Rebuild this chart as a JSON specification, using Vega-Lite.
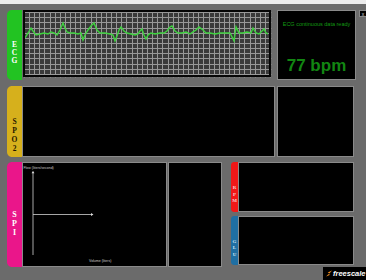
{
  "$schema": "https://vega.github.io/schema/vega-lite/v6.json",
  "background": "#6b6b6b",
  "padding": 0,
  "spacing": 0,
  "config": {"view": {"stroke": null}, "font": "Liberation Sans", "concat": {"spacing": 0}},
  "vconcat": [
    {"spacing": 0, "bounds": "flush", "hconcat": [
      {"width": 366, "height": 4, "view": {"fill": "#ececec"}, "data": {"values": []}, "mark": "point"},
      {"width": 0, "height": 10, "data": {"values": []}, "mark": "point"}
    ]},
    {"spacing": 0, "bounds": "flush", "hconcat": [
      {"width": 7, "height": 76, "data": {"values": []}, "mark": "point"},
      {"width": 15, "height": 70, "data": {"values": [{"label": "E\nC\nG"}]},
        "layer": [
          {"mark": {"type": "rect", "color": "#22c322", "cornerRadiusTopLeft": 5, "cornerRadiusBottomLeft": 5}},
          {"mark": {"type": "text", "lineBreak": "\n", "font": "Liberation Serif", "fontWeight": "bold", "fontSize": 7.5, "lineHeight": 8, "color": "#ffffff"}, "encoding": {"text": {"field": "label"}}}
        ]},
      {"width": 1, "height": 10, "data": {"values": []}, "mark": "point"},
      {"width": 248, "height": 67, "view": {"fill": "#3a3a3a"},
        "layer": [
          {"data": {"values": [{"t":0.2,"v":-1.03},{"t":0.8,"v":-0.06},{"t":1.37,"v":0.91},{"t":1.76,"v":0.33},{"t":2.34,"v":-0.45},{"t":3.12,"v":-0.25},{"t":3.9,"v":-0.06},{"t":4.68,"v":-0.25},{"t":5.27,"v":0.14},{"t":5.85,"v":-0.06},{"t":6.44,"v":-0.45},{"t":7.02,"v":0.52},{"t":7.61,"v":1.88},{"t":8.0,"v":0.91},{"t":8.39,"v":0.14},{"t":8.98,"v":-0.06},{"t":9.76,"v":-0.06},{"t":10.54,"v":-0.25},{"t":11.12,"v":-0.06},{"t":11.51,"v":-1.42},{"t":11.9,"v":-0.45},{"t":12.49,"v":0.52},{"t":13.07,"v":1.3},{"t":13.66,"v":1.88},{"t":14.24,"v":0.52},{"t":14.83,"v":-0.06},{"t":15.8,"v":-0.06},{"t":16.78,"v":-0.25},{"t":17.37,"v":-0.45},{"t":17.76,"v":-1.61},{"t":18.15,"v":-0.64},{"t":18.54,"v":0.52},{"t":18.93,"v":1.11},{"t":19.51,"v":0.33},{"t":20.1,"v":-0.06},{"t":20.88,"v":-0.25},{"t":21.66,"v":-0.45},{"t":22.24,"v":-0.25},{"t":22.63,"v":0.33},{"t":23.02,"v":0.72},{"t":23.41,"v":-0.45},{"t":23.8,"v":-1.22},{"t":24.2,"v":-0.45},{"t":24.78,"v":-0.06},{"t":25.56,"v":-0.25},{"t":26.54,"v":-0.06},{"t":27.32,"v":-0.06},{"t":27.9,"v":0.33},{"t":28.49,"v":1.11},{"t":28.88,"v":1.3},{"t":29.46,"v":0.33},{"t":30.05,"v":-0.06},{"t":30.83,"v":-0.06},{"t":31.61,"v":0.14},{"t":32.39,"v":-0.25},{"t":32.98,"v":0.14},{"t":33.56,"v":0.52},{"t":34.15,"v":1.11},{"t":34.93,"v":0.52},{"t":35.51,"v":-0.06},{"t":36.29,"v":-0.06},{"t":37.27,"v":-0.25},{"t":38.24,"v":-0.06},{"t":39.22,"v":-0.06},{"t":40.2,"v":-0.06},{"t":40.98,"v":-1.61},{"t":41.37,"v":1.11},{"t":41.95,"v":-0.06},{"t":42.73,"v":-0.06},{"t":43.51,"v":0.14},{"t":44.29,"v":-0.06},{"t":44.68,"v":0.91},{"t":45.27,"v":-0.06},{"t":45.85,"v":-0.25},{"t":46.44,"v":0.33},{"t":46.83,"v":0.72},{"t":47.22,"v":-0.06},{"t":47.61,"v":-0.25}]},
            "mark": {"type": "line", "color": "#3fd23f", "strokeWidth": 1.4, "clip": true},
            "encoding": {
              "x": {"field": "t", "type": "quantitative", "scale": {"domain": [-0.195, 48.195], "nice": false, "zero": false}, "axis": {"title": null, "labels": false, "ticks": false, "domain": false, "grid": true, "gridColor": "#989898", "gridOpacity": 1, "values": [0,1,2,3,4,5,6,7,8,9,10,11,12,13,14,15,16,17,18,19,20,21,22,23,24,25,26,27,28,29,30,31,32,33,34,35,36,37,38,39,40,41,42,43,44,45,46,47,48]}},
              "y": {"field": "v", "type": "quantitative", "scale": {"domain": [-8.6, 4.4], "nice": false, "zero": false}, "axis": {"title": null, "labels": false, "ticks": false, "domain": false, "grid": true, "gridColor": "#989898", "gridOpacity": 1, "values": [-8,-7,-6,-5,-4,-3,-2,-1,0,1,2,3,4]}}
            }},
          {"data": {"values": [{"panel": "ecg-frame"}]},
            "mark": {"type": "rect", "filled": false, "stroke": "#050505", "strokeWidth": 4, "clip": true}}
        ]},
      {"width": 6, "height": 10, "data": {"values": []}, "mark": "point"},
      {"width": 79, "height": 70, "view": {"fill": "#000000"},
        "layer": [
          {"data": {"values": [{"line": "status", "msg": "ECG continuous data ready"}]},
            "mark": {"type": "text", "fontSize": 5.5, "color": "#139a13"},
            "encoding": {
              "y": {"field": "line", "type": "nominal", "scale": {"type": "point", "domain": ["status", "rate"], "padding": 0.333}, "axis": null},
              "text": {"field": "msg"}
            }},
          {"data": {"values": [{"line": "rate", "msg": "77 bpm"}]},
            "mark": {"type": "text", "fontSize": 17, "fontWeight": "bold", "color": "#128612"},
            "encoding": {
              "y": {"field": "line", "type": "nominal", "scale": {"type": "point", "domain": ["status", "rate"], "padding": 0.333}, "axis": null},
              "text": {"field": "msg"}
            }},
          {"data": {"values": [{"panel": "info-frame"}]},
            "mark": {"type": "rect", "filled": false, "stroke": "#8a8a8a", "strokeWidth": 2, "clip": true}}
        ]},
      {"width": 3, "height": 10, "data": {"values": []}, "mark": "point"},
      {"width": 8, "height": 7, "view": {"fill": "#000000"},
        "layer": [
          {"data": {"values": [{"s": "x"}]}, "mark": {"type": "text", "fontSize": 5, "color": "#dddddd"}, "encoding": {"text": {"field": "s"}}},
          {"data": {"values": [{"panel": "close-frame"}]}, "mark": {"type": "rect", "filled": false, "stroke": "#888888", "strokeWidth": 2, "clip": true}}
        ]}
    ]},
    {"spacing": 0, "bounds": "flush", "hconcat": [
      {"width": 7, "height": 76, "data": {"values": []}, "mark": "point"},
      {"width": 15, "height": 71, "data": {"values": [{"label": "S\nP\nO\n2"}]},
        "layer": [
          {"mark": {"type": "rect", "color": "#d6b01c", "cornerRadiusTopLeft": 5, "cornerRadiusBottomLeft": 5}},
          {"mark": {"type": "text", "lineBreak": "\n", "font": "Liberation Serif", "fontWeight": "bold", "fontSize": 7.5, "lineHeight": 9, "color": "#1e1600"}, "encoding": {"text": {"field": "label"}}}
        ]},
      {"width": 253, "height": 71, "view": {"fill": "#000000"}, "data": {"values": [{"panel": "spo2-wave"}]},
        "mark": {"type": "rect", "filled": false, "stroke": "#8a8a8a", "strokeWidth": 2, "clip": true}},
      {"width": 2, "height": 10, "data": {"values": []}, "mark": "point"},
      {"width": 77, "height": 71, "view": {"fill": "#000000"}, "data": {"values": [{"panel": "spo2-info"}]},
        "mark": {"type": "rect", "filled": false, "stroke": "#8a8a8a", "strokeWidth": 2, "clip": true}}
    ]},
    {"spacing": 0, "hconcat": [
      {"width": 7, "height": 105, "data": {"values": []}, "mark": "point"},
      {"width": 15, "height": 105, "data": {"values": [{"label": "S\nP\nI"}]},
        "layer": [
          {"mark": {"type": "rect", "color": "#ea168a", "cornerRadiusTopLeft": 5, "cornerRadiusBottomLeft": 5}},
          {"mark": {"type": "text", "lineBreak": "\n", "font": "Liberation Serif", "fontWeight": "bold", "fontSize": 8, "lineHeight": 9, "color": "#ffffff"}, "encoding": {"text": {"field": "label"}}}
        ]},
      {"width": 145, "height": 105, "view": {"fill": "#000000"},
        "layer": [
          {"data": {"values": [{"volume": 0, "flowFrom": -10, "flowTo": 10.4}]},
            "mark": {"type": "rule", "color": "#d0d0d0", "strokeWidth": 0.8},
            "encoding": {
              "x": {"field": "volume", "type": "quantitative", "scale": {"domain": [-1.375, 16.75], "nice": false, "zero": false},
                "axis": {"orient": "bottom", "offset": -8, "values": [0, 1, 2, 3, 4, 5, 6], "domain": false, "ticks": false, "grid": false, "labelFontSize": 3.5, "labelColor": "#cccccc", "labelPadding": 1, "title": null}},
              "y": {"field": "flowFrom", "type": "quantitative", "scale": {"domain": [-12.96, 12.96], "nice": false, "zero": false},
                "axis": {"orient": "left", "offset": -11, "values": [-10, -9, -8, -7, -6, -5, -4, -3, -2, -1, 0, 1, 2, 3, 4, 5, 6, 7, 8, 9, 10], "domain": false, "ticks": true, "tickSize": 1.5, "tickColor": "#cccccc", "labelFontSize": 3, "labelColor": "#cccccc", "labelPadding": 1, "grid": false, "title": null}},
              "y2": {"field": "flowTo"}
            }},
          {"data": {"values": [{"flow": 0, "volFrom": 0, "volTo": 7.4}]},
            "mark": {"type": "rule", "color": "#d0d0d0", "strokeWidth": 0.8},
            "encoding": {
              "x": {"field": "volFrom", "type": "quantitative", "scale": {"domain": [-1.375, 16.75], "nice": false, "zero": false}, "axis": null},
              "x2": {"field": "volTo"},
              "y": {"field": "flow", "type": "quantitative", "scale": {"domain": [-12.96, 12.96], "nice": false, "zero": false}, "axis": null}
            }},
          {"data": {"values": [{"volume": 0, "flow": 10.5, "dir": "up"}, {"volume": 7.4, "flow": 0, "dir": "right"}]},
            "mark": {"type": "point", "filled": true, "color": "#dddddd", "size": 8, "opacity": 1},
            "encoding": {
              "x": {"field": "volume", "type": "quantitative", "scale": {"domain": [-1.375, 16.75], "nice": false, "zero": false}, "axis": null},
              "y": {"field": "flow", "type": "quantitative", "scale": {"domain": [-12.96, 12.96], "nice": false, "zero": false}, "axis": null},
              "shape": {"field": "dir", "type": "nominal", "scale": {"domain": ["up", "right"], "range": ["triangle-up", "triangle-right"]}, "legend": null}
            }},
          {"data": {"values": [{"label": "Flow (liters/second)"}]},
            "mark": {"type": "text", "align": "left", "fontSize": 3.5, "color": "#cccccc"},
            "encoding": {
              "x": {"datum": -1.2, "type": "quantitative", "scale": {"domain": [-1.375, 16.75], "nice": false, "zero": false}, "axis": null},
              "y": {"datum": 11.6, "type": "quantitative", "scale": {"domain": [-12.96, 12.96], "nice": false, "zero": false}, "axis": null},
              "text": {"field": "label"}
            }},
          {"data": {"values": [{"label": "Volume (liters)"}]},
            "mark": {"type": "text", "align": "left", "fontSize": 3.5, "color": "#cccccc"},
            "encoding": {
              "x": {"datum": 7, "type": "quantitative", "scale": {"domain": [-1.375, 16.75], "nice": false, "zero": false}, "axis": null},
              "y": {"datum": -11.6, "type": "quantitative", "scale": {"domain": [-12.96, 12.96], "nice": false, "zero": false}, "axis": null},
              "text": {"field": "label"}
            }},
          {"data": {"values": [{"panel": "spi-frame"}]},
            "mark": {"type": "rect", "filled": false, "stroke": "#8a8a8a", "strokeWidth": 2, "clip": true}}
        ]},
      {"width": 1, "height": 10, "data": {"values": []}, "mark": "point"},
      {"width": 54, "height": 105, "view": {"fill": "#000000"}, "data": {"values": [{"panel": "spi-info"}]},
        "mark": {"type": "rect", "filled": false, "stroke": "#8a8a8a", "strokeWidth": 2, "clip": true}},
      {"width": 9, "height": 10, "data": {"values": []}, "mark": "point"},
      {"spacing": 4, "vconcat": [
        {"spacing": 0, "bounds": "flush", "hconcat": [
          {"width": 7, "height": 50, "data": {"values": [{"label": "R\nP\nM"}]},
            "layer": [
              {"mark": {"type": "rect", "color": "#f01818", "cornerRadiusTopLeft": 3, "cornerRadiusBottomLeft": 3}},
              {"mark": {"type": "text", "lineBreak": "\n", "font": "Liberation Serif", "fontWeight": "bold", "fontSize": 5, "lineHeight": 6.5, "color": "#f8c8c8"}, "encoding": {"text": {"field": "label"}}}
            ]},
          {"width": 116, "height": 50, "view": {"fill": "#000000"}, "data": {"values": [{"panel": "rpm"}]},
            "mark": {"type": "rect", "filled": false, "stroke": "#8a8a8a", "strokeWidth": 2, "clip": true}}
        ]},
        {"spacing": 0, "bounds": "flush", "hconcat": [
          {"width": 7, "height": 49, "data": {"values": [{"label": "G\nL\nU"}]},
            "layer": [
              {"mark": {"type": "rect", "color": "#1f6fa3", "cornerRadiusTopLeft": 3, "cornerRadiusBottomLeft": 3}},
              {"mark": {"type": "text", "lineBreak": "\n", "font": "Liberation Serif", "fontWeight": "bold", "fontSize": 5, "lineHeight": 6.5, "color": "#d0e4f2"}, "encoding": {"text": {"field": "label"}}}
            ]},
          {"width": 116, "height": 49, "view": {"fill": "#000000"}, "data": {"values": [{"panel": "glu"}]},
            "mark": {"type": "rect", "filled": false, "stroke": "#8a8a8a", "strokeWidth": 2, "clip": true}}
        ]}
      ]}
    ]},
    {"spacing": 0, "bounds": "flush", "hconcat": [
      {"width": 323, "height": 13, "data": {"values": []}, "mark": "point"},
      {"width": 43, "height": 13, "view": {"fill": "#000000"},
        "layer": [
          {"data": {"values": [{"part": "icon"}]},
            "mark": {"type": "point", "shape": "M-0.9,0.9L0.1,-0.1L-0.4,-0.3L0.9,-0.9L-0.1,0.2L0.4,0.4Z", "filled": true, "color": "#f08c1e", "size": 45, "opacity": 1},
            "encoding": {"x": {"datum": 0.14, "type": "quantitative", "scale": {"domain": [0, 1], "nice": false}, "axis": null}}},
          {"data": {"values": [{"name": "freescale"}]},
            "mark": {"type": "text", "align": "left", "fontStyle": "italic", "fontWeight": "bold", "fontSize": 7.5, "color": "#ffffff"},
            "encoding": {"x": {"datum": 0.233, "type": "quantitative", "scale": {"domain": [0, 1], "nice": false}, "axis": null}, "text": {"field": "name"}}}
        ]}
    ]}
  ]
}
